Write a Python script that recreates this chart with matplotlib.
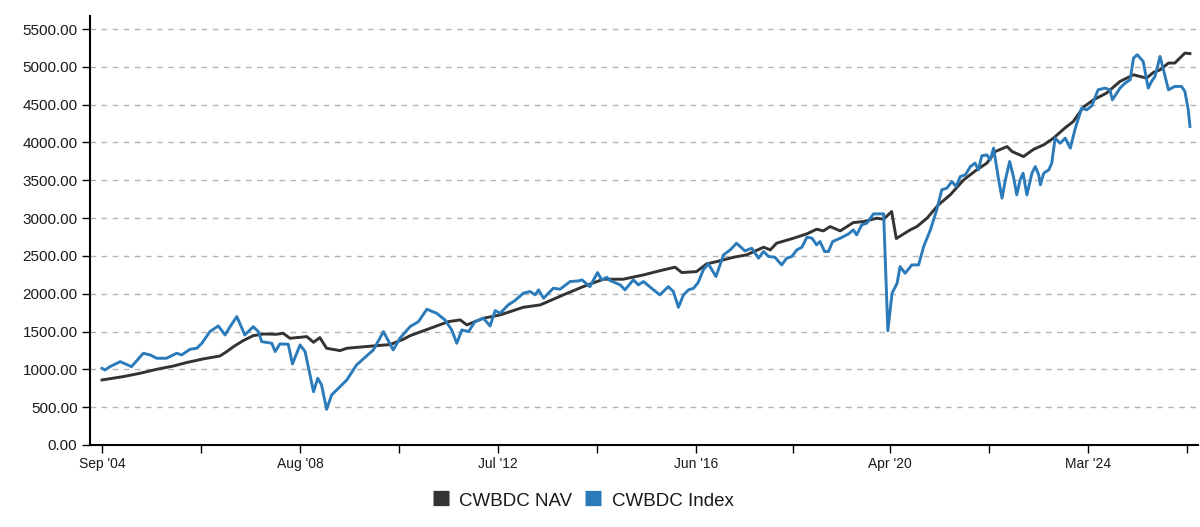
import matplotlib
matplotlib.use("Agg")
import matplotlib.pyplot as plt
import numpy as np
import pandas as pd

# months since Sep 2004 and values
nav_month = [0, 5, 9, 13, 17, 20, 24, 28, 29.6, 31.2, 33.5, 35.9, 38.3, 41.4, 43, 44.6, 47, 48.6,
             50.2, 51.7, 53.3, 56.5, 58.1, 64.4, 68.4, 71.5, 73.1, 77.9, 82.2, 85, 86.6, 90.5, 94.5,
             100, 104, 109.5, 114.2, 119, 123.7, 128.5, 133.2, 136, 137.6, 141.1, 143.5, 145.9, 149.9,
             153, 157, 158.6, 160.1, 164.1, 167.3, 169.6, 171.2, 172.8, 175.2, 178.3, 180.7, 183.9,
             185.5, 187.4, 188.5, 191.8, 193.4, 195.8, 198.5, 201.3, 204.5, 207.6, 210, 212, 214.8,
             216, 218.7, 221.1, 223.5, 225.8, 228.5, 230.5, 232.9, 235.3, 238.4, 241.6, 244.8, 247.9,
             249.5, 251.1, 253.1, 254.6, 257, 258.2]
nav_value = [860, 904, 948, 1001, 1045, 1089, 1138, 1177, 1235, 1300, 1380, 1446, 1468, 1464, 1477, 1411, 1424, 1433,
             1358, 1420, 1279, 1248, 1279, 1310, 1328, 1398, 1445, 1543, 1631, 1654, 1588, 1676, 1720,
             1821, 1852, 1985, 2094, 2192, 2192, 2249, 2315, 2351, 2280, 2293, 2395, 2425, 2483,
             2514, 2615, 2580, 2668, 2734, 2792, 2853, 2831, 2888, 2831, 2941, 2954, 2999,
             2985, 3087, 2730, 2844, 2888, 2999, 3175, 3307, 3506, 3638, 3727, 3880, 3946,
             3880, 3814, 3910, 3969, 4057, 4190, 4277, 4467, 4564, 4653, 4807, 4895, 4851,
             4925, 4960, 5050, 5050, 5182, 5175]

idx_month = [0, 0.7, 1.9, 4.3, 7, 9.8, 11.4, 13, 15.3, 17.7, 18.9, 20.9, 22.5, 23.7, 25.6, 27.6, 29.2, 30.4,
             32, 33.9, 35.9, 37.1, 37.9, 40.3, 41.1, 42.2, 44.2, 45.2, 47, 48.2, 50.2, 51.2, 52.1, 53.3,
             54.5, 58.1, 60.4, 64.4, 66.8, 69.1, 70.7, 73.1, 75.1, 77.1, 79.4, 81.4, 83, 84.2, 85.4, 87,
             88.5, 90.5, 92.1, 93.3, 94.5, 96.4, 98, 100, 101.6, 102.8, 103.6, 104.8, 107.1, 108.7, 111.1,
             113.1, 113.9, 115.8, 117.6, 118.6, 119.8, 120.6, 123, 124.1, 126.1, 127.3, 128.5, 130.9,
             132.4, 134.4, 135.6, 136.8, 138, 139.2, 140.4, 141.5, 142.7, 143.9, 145.7, 147.5, 149.1,
             150.6, 152.6, 154.2, 155.8, 157, 158.2, 159.7, 161.3, 162.5, 163.7, 164.9, 166.1, 167.3,
             168.5, 169.6, 170.4, 171.5, 172.4, 173.4, 175.2, 177.2, 178.3, 179.1, 180.3, 181.5, 183.1,
             185.5, 186.5, 187.5, 188.7, 189.4, 190.6, 192.2, 193.8, 195, 196.6, 198.1, 199.3, 200.5,
             201.7, 202.7, 203.7, 204.9, 206.1, 207.2, 208, 208.8, 210, 210.8, 211.6, 212.8, 213.6,
             214.4, 215.4, 216.3, 217.1, 217.9, 218.6, 219.5, 220.7, 221.5, 222.3, 222.7, 223.5, 224.7,
             225.4, 226.2, 227.4, 228.6, 229.8, 231, 232.5, 233.7, 234.9, 236.4, 238, 239.2, 239.8,
             241.6, 242.8, 244, 244.8, 245.7, 247.1, 248.3, 249.1, 249.9, 251.1, 253.1, 254.6, 256.2,
             257, 257.8, 258.2]
idx_value = [1014, 992, 1036, 1102, 1036, 1213, 1191, 1147, 1147, 1213, 1191, 1266, 1279, 1345, 1499, 1574, 1455, 1565,
             1698, 1455, 1565, 1499, 1367, 1345, 1235, 1336, 1332, 1072, 1323, 1235, 705, 882, 794, 472,
             662, 860, 1058, 1257, 1499, 1257, 1411, 1565, 1631, 1795, 1742, 1654, 1521, 1345, 1521, 1499,
             1631, 1676, 1574, 1777, 1742, 1852, 1910, 2007, 2029, 1985, 2051, 1941, 2073, 2060, 2161,
             2170, 2183, 2094, 2280, 2183, 2218, 2174, 2117, 2051, 2183, 2117, 2161, 2051,
             1985, 2094, 2029, 1821, 1985, 2051, 2073, 2150, 2315, 2395, 2227, 2514, 2580,
             2668, 2566, 2602, 2470, 2558, 2492, 2483, 2381, 2470, 2492, 2580, 2615, 2748,
             2734, 2646, 2690, 2558, 2558, 2690, 2734, 2792, 2844, 2778, 2910, 2932, 3056,
             3056, 1510, 2007, 2139, 2359, 2271, 2381, 2381, 2624, 2844, 3109, 3374, 3396,
             3484, 3418, 3550, 3572, 3682, 3727, 3638, 3823, 3837, 3770, 3925, 3506, 3264,
             3506, 3748, 3550, 3307, 3506, 3594, 3307, 3594, 3682, 3572, 3440, 3594, 3638,
             3727, 4057, 3990, 4057, 3925, 4190, 4454, 4432, 4485, 4697, 4719, 4697, 4564,
             4719, 4785, 4829, 5116, 5160, 5071, 4719, 4807, 4873, 5138, 4697, 4741, 4741,
             4674, 4432, 4212]

tick_dates = ["2004-09", "2008-08", "2012-07", "2016-06", "2020-04", "2024-03"]

start = pd.Timestamp("2004-09-01")


def to_dates(months):
    return start + pd.to_timedelta(np.array(months) * 30.4375, unit="D")


nav_color = "#333333"
idx_color = "#2b7bba"
fonts = ["Liberation Sans", "DejaVu Sans"]

fig = plt.figure(figsize=(12, 5.27), dpi=100)
ax = fig.add_axes([0.075, 0.1556, 0.9233, 0.814])

ax.plot(to_dates(nav_month), nav_value, color=nav_color, lw=2.1, label="CWBDC NAV", zorder=3)
ax.plot(to_dates(idx_month), idx_value, color=idx_color, lw=2.1, label="CWBDC Index", zorder=4)

ax.set_ylim(0, 5672)
ax.set_yticks(np.arange(0, 5501, 500))
ax.yaxis.set_major_formatter(plt.FuncFormatter(lambda v, p: "%.2f" % v))
ax.grid(axis="y", color="#b3b3b3", lw=1, linestyle=(0, (4, 4)))
ax.set_axisbelow(True)

major = pd.to_datetime(tick_dates)
ax.set_xlim(to_dates([-2.85])[0], to_dates([260.1])[0])
ax.set_xticks(major)
ax.set_xticklabels([d.strftime("%b '%y") for d in major])
mids = list(major[:-1] + (major[1:] - major[:-1]) / 2)
mids.append(major[-1] + (major[-1] - major[-2]) / 2)
ax.set_xticks(mids, minor=True)

for s in ["top", "right"]:
    ax.spines[s].set_visible(False)
ax.spines["left"].set_linewidth(1.5)
ax.spines["bottom"].set_linewidth(1.5)
ax.tick_params(axis="both", which="both", length=6, width=1, color="black", labelcolor="#1a1a1a")
ax.tick_params(axis="y", labelsize=11, pad=3)
ax.tick_params(axis="x", labelsize=10, pad=3)
for lab in ax.get_xticklabels() + ax.get_yticklabels():
    lab.set_family(fonts)

leg = fig.legend(loc="center", bbox_to_anchor=(0.486, 0.051), ncol=2, frameon=False,
                 handlelength=0.85, handleheight=1.0, handletextpad=0.55, columnspacing=0.7,
                 prop={"family": fonts, "size": 13.5})
for h in leg.legend_handles:
    h.set_linewidth(11)
    h.set_solid_capstyle("butt")
for t in leg.get_texts():
    t.set_color("#1a1a1a")

fig.savefig("out.png", dpi=100)
